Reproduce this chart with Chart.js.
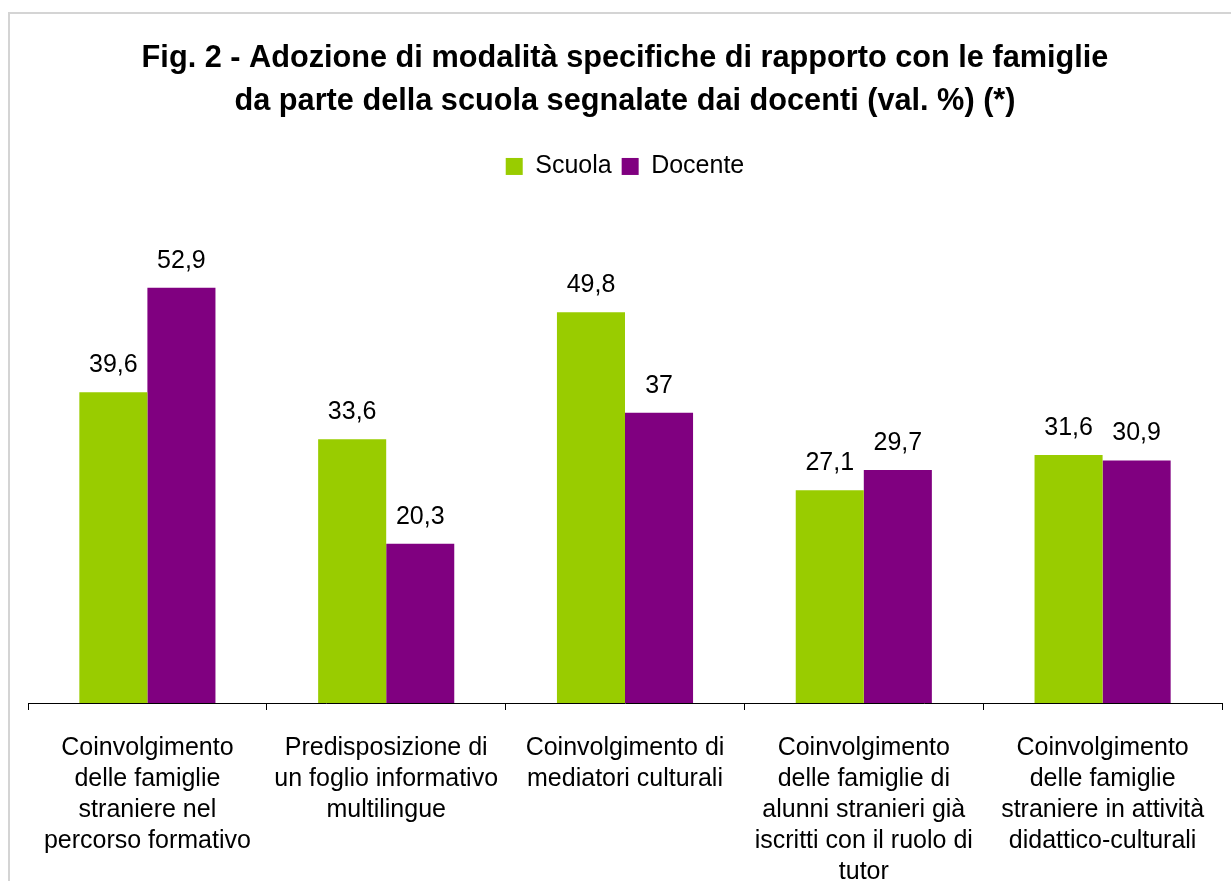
<!DOCTYPE html>
<html>
<head>
<meta charset="utf-8">
<script src="https://cdn.jsdelivr.net/npm/chart.js@4"></script>
<style>
  html, body { margin: 0; padding: 0; background: #fff; overflow: hidden; width: 1231px; height: 881px; }
  #frame { position: absolute; left: 8px; top: 12px; width: 1400px; height: 1000px;
           border-left: 2px solid #d4d4d4; border-top: 2px solid #d4d4d4; }
  #wrap { position: absolute; left: 8px; top: 0px; width: 1234px; height: 911px; }
</style>
</head>
<body>
<div id="frame"></div>
<div id="wrap"><canvas id="c"></canvas></div>
<script>
const categories = [
  ["Coinvolgimento", "delle famiglie", "straniere nel", "percorso formativo"],
  ["Predisposizione di", "un foglio informativo", "multilingue"],
  ["Coinvolgimento di", "mediatori culturali"],
  ["Coinvolgimento", "delle famiglie di", "alunni stranieri già", "iscritti con il ruolo di", "tutor"],
  ["Coinvolgimento", "delle famiglie", "straniere in attività", "didattico-culturali"]
];
const scuola = [39.6, 33.6, 49.8, 27.1, 31.6];
const docente = [52.9, 20.3, 37, 29.7, 30.9];
const seriesNames = ["Scuola", "Docente"];
const titleLines = [
  "Fig. 2 - Adozione di modalità specifiche di rapporto con le famiglie",
  "da parte della scuola segnalate dai docenti (val. %) (*)"
];

const FONT = "'Liberation Sans', Arial, sans-serif";

const valueLabels = {
  id: 'valueLabels',
  afterDatasetsDraw(chart) {
    const ctx = chart.ctx;
    ctx.save();
    ctx.font = "25px " + FONT;
    ctx.fillStyle = '#000';
    ctx.textAlign = 'center';
    ctx.textBaseline = 'middle';
    chart.data.datasets.forEach((ds, i) => {
      chart.getDatasetMeta(i).data.forEach((bar, j) => {
        const txt = String(ds.data[j]).replace('.', ',');
        ctx.fillText(txt, bar.x, bar.y - 27);
      });
    });
    ctx.restore();
  }
};

new Chart(document.getElementById('c'), {
  type: 'bar',
  data: {
    labels: categories,
    datasets: [
      { label: seriesNames[0], data: scuola, backgroundColor: '#99CC00', borderWidth: 0 },
      { label: seriesNames[1], data: docente, backgroundColor: '#800080', borderWidth: 0 }
    ]
  },
  options: {
    responsive: true,
    maintainAspectRatio: false,
    animation: false,
    layout: { padding: { left: 20, right: 20, top: 0, bottom: 0 } },
    datasets: { bar: { categoryPercentage: 0.57, barPercentage: 1.0 } },
    plugins: {
      title: {
        display: true,
        text: titleLines,
        color: '#000',
        font: { family: FONT, size: 30.7, weight: 'bold', lineHeight: 1.4 },
        padding: { top: 37, bottom: 21 }
      },
      legend: {
        display: true,
        labels: {
          color: '#000',
          font: { family: FONT, size: 25 },
          boxWidth: 17, boxHeight: 17,
          padding: 10
        }
      },
      tooltip: { enabled: false }
    },
    scales: {
      x: {
        grid: { display: true, drawOnChartArea: false, drawTicks: true, tickLength: 7, color: '#000', offset: true },
        border: { display: true, color: '#000', width: 1 },
        ticks: {
          color: '#000',
          font: { family: FONT, size: 25, lineHeight: 1.24 },
          maxRotation: 0, minRotation: 0, autoSkip: false, padding: 23
        }
      },
      y: {
        display: false,
        min: 0,
        max: 65.5
      }
    }
  },
  plugins: [valueLabels]
});
</script>
</body>
</html>
